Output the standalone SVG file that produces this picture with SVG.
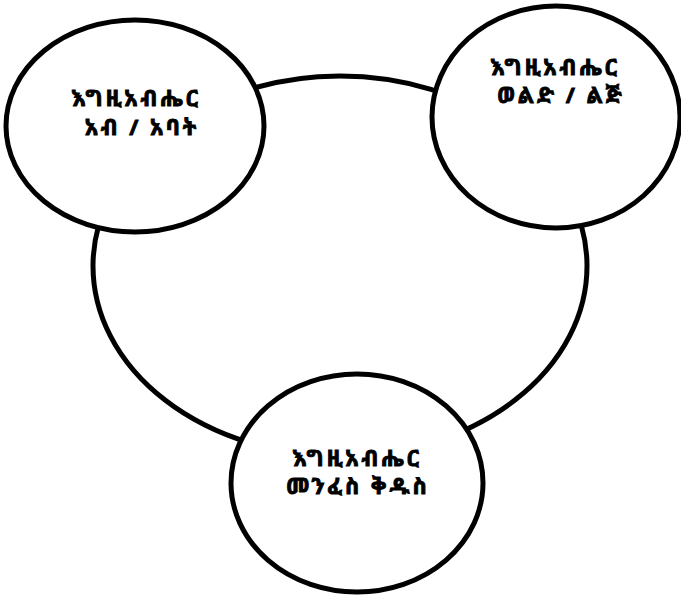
<svg xmlns="http://www.w3.org/2000/svg" width="681" height="595" viewBox="0 0 681 595">
<style>
.ring{fill:none;stroke:#000;stroke-width:5}
.node{fill:#fff;stroke:#000;stroke-width:5}
.lbl{font-family:"Noto Sans Ethiopic","Abyssinica SIL","DejaVu Sans","Noto Sans",sans-serif;font-weight:bold;font-size:22px;letter-spacing:3px;fill:#000;stroke:#000;stroke-width:0.9;text-anchor:middle}
</style>
<rect width="681" height="595" fill="#fff"/>
<g id="connectors">
<ellipse class="ring" cx="340" cy="266" rx="247" ry="190"/>
</g>
<g id="node-father">
<ellipse class="node" cx="135" cy="126" rx="129" ry="106"/>
<text class="lbl" x="136" y="106">እግዚአብሔር</text>
<text class="lbl" x="142" y="135">አብ / አባት</text>
</g>
<g id="node-son">
<ellipse class="node" cx="556" cy="117" rx="124" ry="111"/>
<text class="lbl" x="555" y="75">እግዚአብሔር</text>
<text class="lbl" x="561" y="103">ወልድ / ልጅ</text>
</g>
<g id="node-spirit">
<ellipse class="node" cx="357" cy="483" rx="126" ry="109"/>
<text class="lbl" x="357" y="466">እግዚአብሔር</text>
<text class="lbl" x="358" y="494">መንፈስ ቅዱስ</text>
</g>
</svg>
